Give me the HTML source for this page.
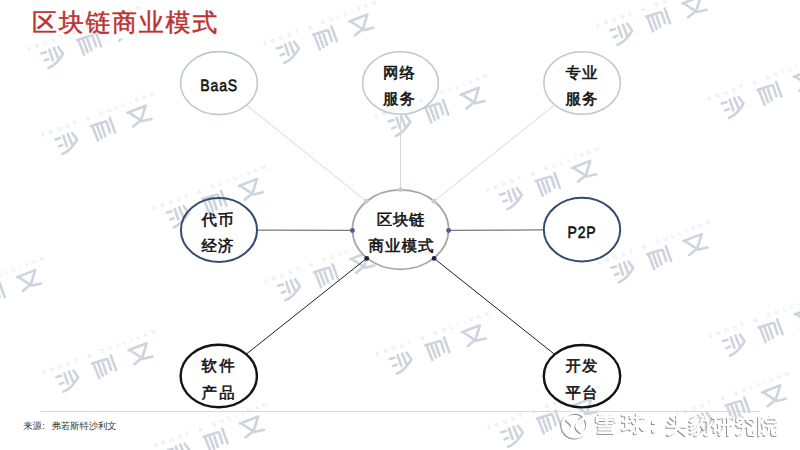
<!DOCTYPE html>
<html><head><meta charset="utf-8">
<style>
html,body{margin:0;padding:0;background:#fff;}
body{width:800px;height:450px;overflow:hidden;position:relative;font-family:"Liberation Sans",sans-serif;}
svg{position:absolute;left:0;top:0;}
text{font-family:"Liberation Sans",sans-serif;text-rendering:geometricPrecision;}
.wm path.g{fill:none;stroke:#ced4dd;stroke-width:2.6;stroke-linecap:round;stroke-linejoin:round;}
.wm text.f{font-size:5.6px;fill:#dde1e7;letter-spacing:4.5px;}
</style></head><body>
<svg width="800" height="450" viewBox="0 0 800 450">
<defs>
<g id="wm" class="wm">
<text class="f" x="-21" y="-14">FROST &amp; SULLIVAN</text>
<path class="g" d="M-9.6,-7.4L-4.8,-7M-8.8,0.3L-5,0.3M-0.9,-8.1L-1.2,3.1M3.9,-8.2L4.3,3.3M8.4,-7.5L10.6,0.5Q0.15,8.8 -8.1,8.7"/>
<path class="g" transform="translate(39,0)" d="M-10.5,-7.6L4.4,-6.8M-9.2,-5.5L-9,8.6M-4.8,-5L-4.8,7.5M-0.4,-4.3L-0.7,6.9M5.5,-6L5,5M9.8,-8.6L9.7,7"/>
<path class="g" transform="translate(78,0)" d="M-10.8,-7.2L8.7,-7.4M-8.9,-6L0,5.9L9.5,7.1M7.9,-6.4L-0.4,4.4L-10.2,7.8"/>
</g>
<filter id="sh" x="-20%" y="-20%" width="140%" height="140%">
<feGaussianBlur in="SourceAlpha" stdDeviation="0.5"/>
<feOffset dx="-0.6" dy="1.1" result="o"/>
<feFlood flood-color="#777" flood-opacity="0.9"/>
<feComposite operator="in" in2="o"/>
<feMerge><feMergeNode/><feMergeNode in="SourceGraphic"/></feMerge>
</filter>
</defs>
<g>
<use href="#wm" transform="translate(67.0,143.0) rotate(-20.5)"/>
<use href="#wm" transform="translate(178.4,216.2) rotate(-20.5)"/>
<use href="#wm" transform="translate(288.8,51.8) rotate(-20.5)"/>
<use href="#wm" transform="translate(289.9,289.4) rotate(-20.5)"/>
<use href="#wm" transform="translate(400.2,125.0) rotate(-20.5)"/>
<use href="#wm" transform="translate(401.3,362.6) rotate(-20.5)"/>
<use href="#wm" transform="translate(511.7,198.2) rotate(-20.5)"/>
<use href="#wm" transform="translate(512.7,435.8) rotate(-20.5)"/>
<use href="#wm" transform="translate(622.0,33.8) rotate(-20.5)"/>
<use href="#wm" transform="translate(623.1,271.4) rotate(-20.5)"/>
<use href="#wm" transform="translate(733.4,107.0) rotate(-20.5)"/>
<use href="#wm" transform="translate(734.5,344.6) rotate(-20.5)"/>
<use href="#wm" transform="translate(68.1,380.6) rotate(-20.5)"/>
<use href="#wm" transform="translate(179.5,453.8) rotate(-20.5)"/>
<use href="#wm" transform="translate(-43.4,307.4) rotate(-20.5)"/>
<use href="#wm" transform="translate(701.5,422.7) rotate(-20.5)"/>
<use href="#wm" transform="translate(53.0,57.0) rotate(-20.5)"/>
</g>
<rect x="104" y="12" width="136" height="26.5" fill="#fff"/>
<text x="32" y="30.8" font-size="25" letter-spacing="1.7" fill="#bb3330" stroke="#bb3330" stroke-width="0.45">区块链商业模式</text>
<line x1="40" y1="411.5" x2="759.5" y2="411.5" stroke="#d8d8d8" stroke-width="1"/>
<g fill="none">
<line x1="246.46" y1="105.12" x2="366.4" y2="201.3" stroke="#d5d7da" stroke-width="1.0"/>
<line x1="400.50" y1="114.20" x2="400.5" y2="189.8" stroke="#d5d7da" stroke-width="1.0"/>
<line x1="554.75" y1="104.84" x2="434.0" y2="201.3" stroke="#d5d7da" stroke-width="1.0"/>
<line x1="257.00" y1="230.13" x2="352.4" y2="230.45" stroke="#767b83" stroke-width="1.3"/>
<line x1="543.80" y1="229.84" x2="448.6" y2="230.45" stroke="#767b83" stroke-width="1.3"/>
<line x1="246.11" y1="354.25" x2="366.7" y2="258.4" stroke="#1e1e28" stroke-width="1.0"/>
<line x1="554.65" y1="354.42" x2="434.1" y2="258.4" stroke="#1e1e28" stroke-width="1.0"/>
</g>
<g fill="none">
<ellipse cx="219.0" cy="83.1" rx="38.4" ry="31.5" stroke="#c1c7d0" stroke-width="1.55"/>
<ellipse cx="400.5" cy="83.0" rx="37.9" ry="31.2" stroke="#c1c7d0" stroke-width="1.55"/>
<ellipse cx="582.1" cy="83.0" rx="38.3" ry="31.2" stroke="#c1c7d0" stroke-width="1.55"/>
<ellipse cx="218.95" cy="230.0" rx="38.05" ry="31.9" stroke="#364b70" stroke-width="2.0"/>
<ellipse cx="582.0" cy="229.6" rx="38.2" ry="31.8" stroke="#364b70" stroke-width="2.0"/>
<ellipse cx="218.75" cy="376.0" rx="38.15" ry="31.2" stroke="#141414" stroke-width="2.4"/>
<ellipse cx="582.0" cy="376.2" rx="38.2" ry="31.2" stroke="#141414" stroke-width="2.4"/>
<ellipse cx="400.5" cy="229.55" rx="48.1" ry="39.75" stroke="#a6a6a6" stroke-width="1.8" fill="#fff"/>
</g>
<g>
<circle cx="366.4" cy="201.3" r="2.45" fill="#c3cbd9"/>
<circle cx="400.5" cy="189.8" r="2.45" fill="#c3cbd9"/>
<circle cx="434.0" cy="201.3" r="2.45" fill="#c3cbd9"/>
<circle cx="352.4" cy="230.45" r="2.45" fill="#4b5d8a"/>
<circle cx="448.6" cy="230.45" r="2.45" fill="#4b5d8a"/>
<circle cx="366.7" cy="258.4" r="2.45" fill="#1c2240"/>
<circle cx="434.1" cy="258.4" r="2.45" fill="#1c2240"/>
</g>
<g font-size="15.4" letter-spacing="1" fill="#111" stroke="#111" stroke-width="0.55" text-anchor="middle">
<text x="0" y="90.8" font-size="16.5" letter-spacing="1.0" stroke-width="0.6" transform="translate(219.2,0) scale(0.85,1)">BaaS</text>
<text x="399.5" y="78.1">网络</text>
<text x="399.5" y="103.6">服务</text>
<text x="582" y="78.3">专业</text>
<text x="582" y="103.5">服务</text>
<text x="218" y="225">代币</text>
<text x="218" y="251">经济</text>
<text x="401" y="225.2" font-size="15.5" letter-spacing="0.7">区块链</text>
<text x="401.4" y="251.4" font-size="15.5" letter-spacing="1.0">商业模式</text>
<text x="0" y="237.5" font-size="16.5" letter-spacing="1.0" stroke-width="0.6" transform="translate(582.0,0) scale(0.85,1)">P2P</text>
<text x="219.2" y="371" letter-spacing="2.4">软件</text>
<text x="219.2" y="398" letter-spacing="2.4">产品</text>
<text x="582" y="370.9">开发</text>
<text x="582" y="397.5">平台</text>
</g>
<text y="429.2" font-size="9.3" fill="#333"><tspan x="23.3">来源</tspan><tspan x="42.2">:</tspan><tspan x="51.5">弗若斯特沙利文</tspan></text>
<g filter="url(#sh)" fill="#fff" font-weight="400" opacity="0.92" stroke-linejoin="round">
<circle cx="575" cy="424.8" r="12.4" fill="none" stroke="#fff" stroke-width="2.7"/>
<path d="M565,417.5 L571.5,423.5 Q574,426.5 570.5,430 L566.5,433.5" fill="none" stroke="#fff" stroke-width="3"/>
<path d="M584.5,418 Q580,421 577.5,424 Q575.5,427 579,430 L584.5,434.5" fill="none" stroke="#fff" stroke-width="3"/>
<text x="594" y="431.4" font-size="22" letter-spacing="4.6" stroke="#fff" stroke-width="1.1" transform="translate(594,0) scale(1.06,1) translate(-594,0)">雪球</text>
<text x="643" y="431.6" font-size="21.5" stroke="#fff" stroke-width="1.1">：</text>
<text x="666" y="432.6" font-size="21.2" letter-spacing="1.7" stroke="#fff" stroke-width="0.9">头豹研究院</text>
</g>
</svg>
</body></html>
